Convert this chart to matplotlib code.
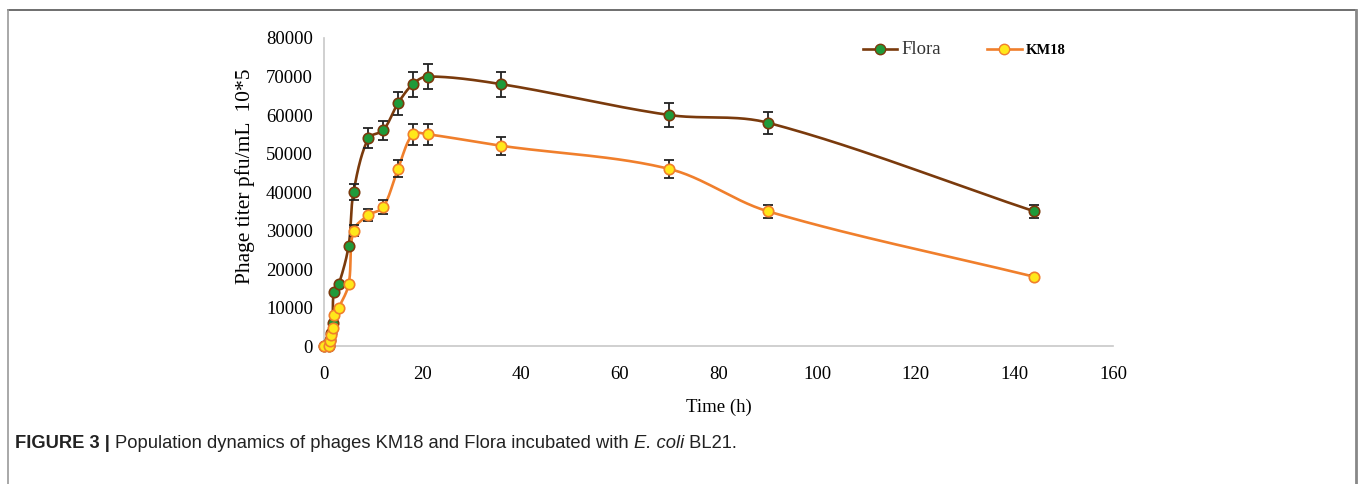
import numpy as np
import matplotlib.pyplot as plt
from matplotlib.lines import Line2D

# time points (h)
time_h = [0, 1, 1.25, 1.5, 1.75, 2, 3, 5, 6, 9, 12, 15, 18, 21, 36, 70, 90, 144]

flora = [0, 0, 1500, 3500, 6000, 14000, 16000, 26000, 40000, 54000, 56000, 63000,
         68000, 70000, 68000, 60000, 58000, 35000]
flora_err = [0, 0, 0, 0, 0, 0, 0, 0, 2000, 2500, 2500, 3000, 3200, 3200, 3200, 3000, 2900, 1700]

km18 = [0, 0, 1400, 2900, 4800, 8000, 10000, 16000, 30000, 34000, 36000, 46000,
        55000, 55000, 52000, 46000, 35000, 18000]
km18_err = [0, 0, 0, 0, 0, 0, 0, 0, 1500, 1500, 1800, 2200, 2700, 2700, 2300, 2400, 1700, 500]

XMAX, YMAX = 160, 80000


def smooth(x, y, n=30, sx=790, sy=308):
    # smoothed line through the points, Bezier segments with chord-weighted tangents
    p = np.column_stack([np.asarray(x, float) / XMAX * sx, np.asarray(y, float) / YMAX * sy])
    m = len(p)
    L = np.linalg.norm(np.diff(p, axis=0), axis=1) + 1e-9
    tang = np.zeros_like(p)
    for i in range(m):
        if i == 0:
            tang[i] = (p[1] - p[0]) / L[0]
        elif i == m - 1:
            tang[i] = (p[-1] - p[-2]) / L[-1]
        else:
            tang[i] = (p[i + 1] - p[i - 1]) / (L[i - 1] + L[i])
    t = np.linspace(0, 1, n)[:, None]
    out = []
    for i in range(m - 1):
        b0, b3 = p[i], p[i + 1]
        b1 = b0 + tang[i] * L[i] / 3
        b2 = b3 - tang[i + 1] * L[i] / 3
        seg = (1 - t) ** 3 * b0 + 3 * (1 - t) ** 2 * t * b1 + 3 * (1 - t) * t ** 2 * b2 + t ** 3 * b3
        out.append(seg)
    out = np.vstack(out)
    return out[:, 0] / sx * XMAX, out[:, 1] / sy * YMAX


fig = plt.figure(figsize=(13.6, 4.84), dpi=100)
ax = fig.add_axes([0.2382, 0.285, 0.5802, 0.6365])

serif = 'Liberation Serif'
flora_line = '#7a3a0c'
flora_face = '#1f9a3a'
km_line = '#f07f2c'
km_face = '#ffe81a'

for xs, ys, err, lc, fc in [(time_h, flora, flora_err, flora_line, flora_face),
                            (time_h, km18, km18_err, km_line, km_face)]:
    sx, sy = smooth(xs, ys)
    ax.plot(sx, sy, color=lc, lw=1.9, zorder=2, clip_on=False)
    e = np.array(err, float)
    mask = e > 0
    ax.errorbar(np.array(xs)[mask], np.array(ys)[mask], yerr=e[mask], fmt='none',
                ecolor='#222222', elinewidth=1.3, capsize=3.5, capthick=1.3, zorder=3)
    ax.plot(xs, ys, 'o', ms=7.5, mfc=fc, mec=lc, mew=1.2, zorder=4, clip_on=False)

ax.set_xlim(0, XMAX)
ax.set_ylim(0, YMAX)
ax.set_xticks(range(0, 161, 20))
ax.set_yticks(range(0, 80001, 10000))
for s in ['top', 'right']:
    ax.spines[s].set_visible(False)
for s in ['left', 'bottom']:
    ax.spines[s].set_color('#c8c8c8')
    ax.spines[s].set_linewidth(1.2)
ax.tick_params(length=0, labelsize=13.5)
ax.tick_params(axis='x', pad=14)
ax.tick_params(axis='y', pad=8)
for lab in ax.get_xticklabels() + ax.get_yticklabels():
    lab.set_fontfamily(serif)

ax.set_xlabel('Time (h)', fontsize=13.5, family=serif, labelpad=12)
ax.set_ylabel('Phage titer pfu/mL  10*5', fontsize=15.5, family=serif, labelpad=8)
ax.yaxis.label.set_y(0.552)

handles = [Line2D([], [], color=flora_line, lw=1.9, marker='o', ms=7.5, mfc=flora_face, mec=flora_line),
           Line2D([], [], color=km_line, lw=1.9, marker='o', ms=7.5, mfc=km_face, mec=km_line)]
leg = fig.legend(handles, ['Flora', 'KM18'], loc='center left', bbox_to_anchor=(0.625, 0.897),
                 ncol=2, frameon=False, handlelength=2.5, columnspacing=3.3, handletextpad=0.3)
t1, t2 = leg.get_texts()
t1.set_fontfamily(serif)
t1.set_fontsize(13.5)
t1.set_color('#333333')
t2.set_fontfamily(serif)
t2.set_fontsize(10.5)
t2.set_fontweight('bold')

# frame around figure panel
fig.add_artist(Line2D([0.006, 0.997], [0.979, 0.979], color='#555555', lw=1.2))
fig.add_artist(Line2D([0.006, 0.006], [0.0, 0.979], color='#999999', lw=1.2))
fig.add_artist(Line2D([0.997, 0.997], [0.0, 0.979], color='#888888', lw=2))

# caption
cap = ['Liberation Sans', 'DejaVu Sans']
pieces = [('FIGURE 3 | ', 'bold', 'normal'),
          ('Population dynamics of phages KM18 and Flora incubated with ', 'normal', 'normal'),
          ('E. coli', 'normal', 'italic'),
          (' BL21.', 'normal', 'normal')]
fig.canvas.draw()
r = fig.canvas.get_renderer()
x = 15
for txt, w, st in pieces:
    t = fig.text(x / 1360, 1 - 444 / 484, txt, fontsize=13.2, family=cap, weight=w, style=st,
                 va='center', ha='left', color='#222222')
    x = t.get_window_extent(r).x1

fig.savefig('out.png', dpi=100)
